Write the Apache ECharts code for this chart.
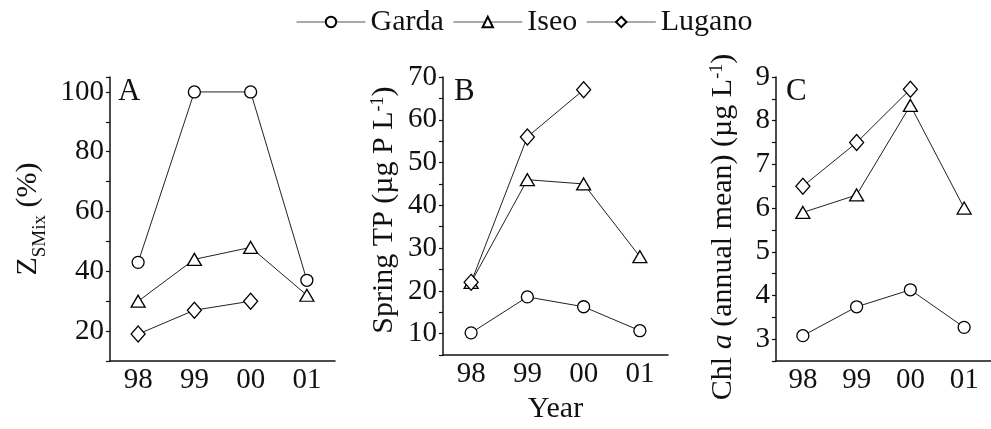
<!DOCTYPE html>
<html>
<head>
<meta charset="utf-8">
<script src="https://cdn.jsdelivr.net/npm/echarts@6/dist/echarts.min.js"></script>
<style>
  html, body { margin: 0; padding: 0; background: #fff; }
  #chart { width: 991px; height: 429px; }
</style>
</head>
<body>
<div id="chart"></div>
<script>
// Years on every x axis
const years = ['98', '99', '00', '01'];
const lakes = ['Garda', 'Iseo', 'Lugano'];

// Panel A: Z_SMix (%)
const zsmixGarda = [43, 100, 100, 37];
const zsmixIseo = [30, 44, 48, 32];
const zsmixLugano = [19, 27, 30, null];

// Panel B: spring total phosphorus (µg P L-1)
const tpGarda = [10.2, 18.6, 16.3, 10.7];
const tpIseo = [22, 46, 45, 28];
const tpLugano = [22, 56, 67, null];

// Panel C: annual mean chlorophyll a (µg L-1)
const chlGarda = [3.08, 3.74, 4.13, 3.27];
const chlIseo = [5.9, 6.3, 8.35, 6.0];
const chlLugano = [6.5, 7.5, 8.72, null];

const FONT = 'Liberation Serif, Times New Roman, serif';
const INK = '#111';

const symbols = {
  Garda: { symbol: 'circle', size: 12 },
  Iseo: { symbol: 'triangle', size: [14, 12] },
  Lugano: { symbol: 'diamond', size: [14, 16] }
};

function xAxisFor(idx, extra) {
  return Object.assign({
    type: 'category',
    gridIndex: idx,
    data: years,
    boundaryGap: true,
    axisLine: { lineStyle: { color: INK, width: 1.5 } },
    axisTick: { alignWithLabel: true, length: 4, lineStyle: { color: INK, width: 1.2 } },
    axisLabel: { color: INK, fontFamily: FONT, fontSize: 29, margin: 5 },
    splitLine: { show: false }
  }, extra || {});
}

function yAxisFor(idx, min, max, step, labelStep, extra) {
  return Object.assign({
    type: 'value',
    gridIndex: idx,
    min: min,
    max: max,
    interval: step,
    axisLine: { show: true, lineStyle: { color: INK, width: 1.5 } },
    axisTick: { show: true, length: 4, lineStyle: { color: INK, width: 1.2 } },
    axisLabel: {
      color: INK, fontFamily: FONT, fontSize: 29, margin: 6,
      formatter: function (v) {
        const r = v / labelStep;
        return (Math.abs(r - Math.round(r)) < 1e-6 && v >= min + step * 0.5) ? String(v) : '';
      }
    },
    splitLine: { show: false },
    nameLocation: 'middle',
    nameRotate: 90,
    nameTextStyle: { color: INK, fontFamily: FONT, fontSize: 30 }
  }, extra || {});
}

function panelSeries(idx, g, i, l) {
  const sets = { Garda: g, Iseo: i, Lugano: l };
  return lakes.map(function (name) {
    return {
      name: name,
      type: 'line',
      xAxisIndex: idx,
      yAxisIndex: idx,
      data: sets[name],
      symbol: symbols[name].symbol,
      symbolSize: symbols[name].size,
      showAllSymbol: true,
      connectNulls: false,
      lineStyle: { color: '#222', width: 1 },
      itemStyle: { color: '#fff', borderColor: '#000', borderWidth: 1.3 },
      emphasis: { disabled: true },
      z: name === 'Garda' ? 3 : 2
    };
  });
}

const chart = echarts.init(document.getElementById('chart'), null, { renderer: 'canvas' });

chart.setOption({
  animation: false,
  backgroundColor: '#fff',
  legend: {
    data: lakes,
    left: 291,
    top: 2,
    itemWidth: 69,
    itemHeight: 13,
    itemGap: 9,
    lineStyle: { color: '#555', width: 1 },
    textStyle: { color: INK, fontFamily: FONT, fontSize: 30 },
    selectedMode: false
  },
  title: [
    { text: 'A', left: 118, top: 76, padding: 0, textStyle: { fontFamily: FONT, fontSize: 31, fontWeight: 'normal', color: INK } },
    { text: 'B', left: 454, top: 76, padding: 0, textStyle: { fontFamily: FONT, fontSize: 31, fontWeight: 'normal', color: INK } },
    { text: 'C', left: 786, top: 76, padding: 0, textStyle: { fontFamily: FONT, fontSize: 31, fontWeight: 'normal', color: INK } }
  ],
  grid: [
    { left: 110, top: 77, width: 225, bottom: 68 },
    { left: 443, top: 77, width: 225, bottom: 68 },
    { left: 776, top: 77, width: 225, bottom: 68 }
  ],
  xAxis: [
    xAxisFor(0),
    xAxisFor(1, {
      name: 'Year',
      nameLocation: 'middle',
      nameGap: 34,
      nameTextStyle: { color: INK, fontFamily: FONT, fontSize: 30 }
    }),
    xAxisFor(2)
  ],
  yAxis: [
    yAxisFor(0, 10, 105, 10, 20, {
      name: '{z|Z}{s|SMix} (%)',
      nameGap: 60,
      nameTextStyle: {
        color: INK, fontFamily: FONT, fontSize: 30,
        rich: {
          z: { fontFamily: FONT, fontSize: 30, color: INK },
          s: { fontFamily: FONT, fontSize: 19, color: INK, verticalAlign: 'bottom', lineHeight: 44 }
        }
      }
    }),
    yAxisFor(1, 5, 70, 5, 10, {
      name: 'Spring TP (µg P L{sup|-1})',
      nameGap: 44,
      nameTextStyle: {
        color: INK, fontFamily: FONT, fontSize: 30,
        padding: [0, 0, 0, 12],
        rich: {
          sup: { fontFamily: FONT, fontSize: 18, color: INK, verticalAlign: 'top', lineHeight: 30 }
        }
      }
    }),
    yAxisFor(2, 2.5, 9, 0.5, 1, {
      name: 'Chl {i|a} (annual mean) (µg L{sup|-1})',
      nameGap: 38,
      nameTextStyle: {
        color: INK, fontFamily: FONT, fontSize: 30,
        padding: [0, 16, 0, 0],
        rich: {
          i: { fontFamily: FONT, fontSize: 30, fontStyle: 'italic', color: INK },
          sup: { fontFamily: FONT, fontSize: 18, color: INK, verticalAlign: 'top', lineHeight: 30 }
        }
      }
    })
  ],
  series: []
    .concat(panelSeries(0, zsmixGarda, zsmixIseo, zsmixLugano))
    .concat(panelSeries(1, tpGarda, tpIseo, tpLugano))
    .concat(panelSeries(2, chlGarda, chlIseo, chlLugano))
});
</script>
</body>
</html>
